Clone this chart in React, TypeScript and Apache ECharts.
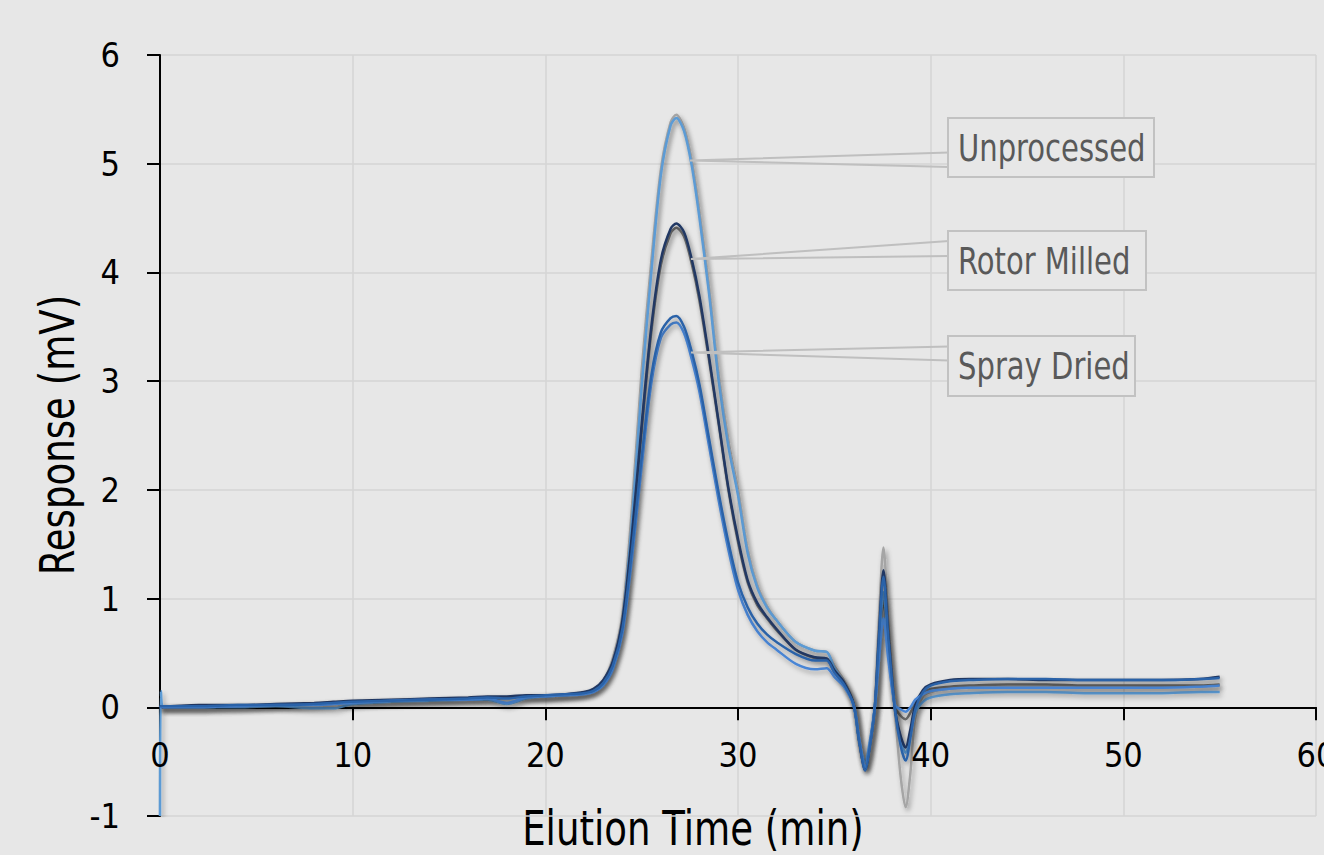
import React, { useEffect, useRef } from "react";
import * as echarts from "echarts";

// Elution time (min)
const TIME = [
  0, 0.05, 0.2,
  2, 4, 6, 8, 9, 10,
  12, 14, 16, 17, 18, 19, 20, 21,
  22, 22.5, 23, 23.5, 24, 24.5, 25, 25.5, 26, 26.5, 26.8,
  27.2, 27.6, 28, 28.5, 29, 29.5, 30, 30.5, 31, 31.5, 32,
  33, 34, 34.6, 35, 35.5, 36,
  36.3, 36.6, 36.85, 37.1, 37.3, 37.55, 37.8, 38.15, 38.45, 38.7, 38.95, 39.2, 39.6, 40,
  41, 42, 44, 46, 48, 50, 52, 54, 55,
];

// Response (mV)
const UNPROCESSED_1 = [
  0, 0, 0,
  0.0, 0.01, 0.02, 0.03, 0.04, 0.05,
  0.06, 0.07, 0.08, 0.09, 0.09, 0.1, 0.1, 0.11,
  0.13, 0.16, 0.24, 0.45, 0.85, 1.85, 3.1, 4.1, 4.95, 5.38, 5.45,
  5.33, 5.02, 4.55, 3.85, 3.05, 2.45, 2.0, 1.45, 1.12, 0.93, 0.8,
  0.6, 0.52, 0.51, 0.38, 0.25, 0.04,
  -0.35, -0.56, -0.35, 0.0, 0.75, 1.47, 0.8, -0.05, -0.65, -0.92, -0.6, -0.1, 0.1, 0.14,
  0.17, 0.18, 0.19, 0.19, 0.18, 0.18, 0.19, 0.19, 0.2,
];
const UNPROCESSED_2 = [
  -1.0, 0.15, 0.0,
  0.0, 0.0, 0.01, -0.01, -0.01, 0.03,
  0.05, 0.06, 0.07, 0.07, 0.03, 0.08, 0.1, 0.11,
  0.13, 0.15, 0.22, 0.41, 0.78, 1.72, 2.95, 4.0, 4.9, 5.35, 5.42,
  5.3, 4.98, 4.5, 3.8, 3.0, 2.4, 1.95, 1.42, 1.1, 0.92, 0.8,
  0.6, 0.52, 0.51, 0.36, 0.22, 0.02,
  -0.33, -0.5, -0.3, 0.0, 0.52, 1.06, 0.57, -0.02, -0.3, -0.42, -0.25, -0.05, 0.05, 0.09,
  0.12, 0.13, 0.14, 0.14, 0.13, 0.13, 0.13, 0.14, 0.14,
];
const ROTOR_1 = [
  0, 0.01, 0.01,
  0.02, 0.02, 0.03, 0.04, 0.05, 0.06,
  0.07, 0.08, 0.09, 0.1, 0.1, 0.11, 0.11, 0.12,
  0.14, 0.17, 0.25, 0.42, 0.8, 1.6, 2.6, 3.5, 4.12, 4.4, 4.45,
  4.37, 4.12, 3.78, 3.22, 2.62, 2.02, 1.55, 1.17, 0.96, 0.83, 0.72,
  0.53, 0.46, 0.45, 0.34, 0.23, 0.03,
  -0.32, -0.58, -0.35, 0.0, 0.62, 1.26, 0.68, -0.02, -0.27, -0.37, -0.2, 0.02, 0.16, 0.21,
  0.25, 0.26, 0.26, 0.25, 0.25, 0.25, 0.25, 0.26, 0.28,
];
const ROTOR_2 = [
  0, 0, 0,
  0.0, 0.01, 0.02, 0.03, 0.04, 0.05,
  0.06, 0.07, 0.08, 0.07, 0.09, 0.1, 0.1, 0.11,
  0.13, 0.16, 0.24, 0.41, 0.78, 1.55, 2.55, 3.45, 4.07, 4.36, 4.41,
  4.33, 4.08, 3.74, 3.19, 2.6, 2.0, 1.52, 1.15, 0.94, 0.82, 0.71,
  0.53, 0.45, 0.44, 0.33, 0.22, 0.03,
  -0.32, -0.56, -0.33, 0.0, 0.48, 0.98, 0.53, 0.0, -0.08, -0.11, -0.05, 0.05, 0.13, 0.17,
  0.19, 0.2, 0.21, 0.21, 0.2, 0.2, 0.2, 0.2, 0.21,
];
const SPRAY_1 = [
  0, 0.01, 0.01,
  0.01, 0.02, 0.02, 0.03, 0.04, 0.05,
  0.06, 0.07, 0.08, 0.09, 0.08, 0.1, 0.11, 0.12,
  0.13, 0.15, 0.22, 0.38, 0.72, 1.45, 2.3, 3.05, 3.45, 3.58, 3.6,
  3.5, 3.27, 2.97, 2.47, 1.97, 1.52, 1.15, 0.92, 0.77, 0.67, 0.6,
  0.49, 0.43, 0.43, 0.32, 0.21, 0.02,
  -0.32, -0.58, -0.35, 0.0, 0.58, 1.2, 0.64, -0.03, -0.36, -0.49, -0.28, -0.02, 0.14, 0.2,
  0.24, 0.25, 0.26, 0.26, 0.25, 0.25, 0.25, 0.26, 0.27,
];
const SPRAY_2 = [
  0, 0, 0,
  0.0, 0.01, 0.02, 0.02, 0.03, 0.04,
  0.06, 0.07, 0.07, 0.08, 0.04, 0.09, 0.1, 0.11,
  0.12, 0.14, 0.2, 0.35, 0.68, 1.38, 2.22, 2.98, 3.4, 3.52, 3.54,
  3.44, 3.2, 2.9, 2.4, 1.9, 1.45, 1.08, 0.85, 0.7, 0.6, 0.53,
  0.4, 0.35, 0.36, 0.28, 0.19, 0.02,
  -0.3, -0.55, -0.33, 0.0, 0.4, 0.82, 0.44, 0.02, -0.02, -0.04, 0.0, 0.07, 0.12, 0.15,
  0.17, 0.18, 0.18, 0.18, 0.18, 0.18, 0.18, 0.19, 0.2,
];

const SERIES_NAMES = ["Unprocessed A", "Rotor Milled B", "Unprocessed B", "Rotor Milled A", "Spray Dried B", "Spray Dried A"];
const SERIES_VALUES = [UNPROCESSED_1, ROTOR_2, UNPROCESSED_2, ROTOR_1, SPRAY_2, SPRAY_1];
const SERIES_COLORS = ["#a5a5a5", "#6b6b6b", "#5b9bd5", "#203864", "#4a86d6", "#2a62a8"];

const X_TICKS = [0, 10, 20, 30, 40, 50, 60];
const Y_TICKS = [-1, 0, 1, 2, 3, 4, 5, 6];

const LABELS = ["Unprocessed", "Rotor Milled", "Spray Dried"];
const X_TITLE = "Elution Time (min)";
const Y_TITLE = "Response (mV)";

const FONT = "'DejaVu Sans Condensed', 'DejaVu Sans', sans-serif";
const BG = "#e7e7e7";

export default function App() {
  const ref = useRef<HTMLDivElement>(null);
  useEffect(() => {
    if (!ref.current) return;
    const chart = echarts.init(ref.current, undefined, { renderer: "svg" });

    const series: any[] = SERIES_VALUES.map((vals, i) => ({
      name: SERIES_NAMES[i],
      type: "line",
      showSymbol: false,
      smooth: 0.3,
      data: TIME.map((t, j) => [t, vals[j]]),
      lineStyle: {
        color: SERIES_COLORS[i],
        width: 2.5,
        shadowColor: "rgba(0,0,0,0.35)",
        shadowBlur: 5,
        shadowOffsetX: 2,
        shadowOffsetY: 3,
      },
      itemStyle: { color: SERIES_COLORS[i] },
      z: 2 + i,
    }));

    // x tick labels placed next to the zero line (through the library's scales)
    series.push({
      name: "xTickLabels",
      type: "scatter",
      silent: true,
      symbolSize: 0,
      itemStyle: { color: "rgba(0,0,0,0)" },
      clip: false,
      data: X_TICKS.map((t) => [t, 0]),
      label: {
        show: true,
        position: "bottom",
        distance: 31,
        formatter: (p: any) => String(p.value[0]),
        color: "#000",
        opacity: 1,
        fontSize: 34,
        fontFamily: FONT,
      },
      z: 20,
    });

    const boxes = [
      { x: 948, y: 118, w: 206, h: 59, pts: [[949, 152.5], [690, 160.5], [949, 167]] },
      { x: 948, y: 231, w: 198, h: 59, pts: [[949, 241], [691, 259], [949, 256]] },
      { x: 948, y: 336, w: 187, h: 60, pts: [[949, 346.5], [691, 352.5], [949, 360.5]] },
    ];

    const graphics: any[] = [];
    boxes.forEach((b, i) => {
      graphics.push({
        type: "polyline",
        shape: { points: b.pts },
        style: { stroke: "#bfbfbf", lineWidth: 2, fill: null },
        z: 100,
      });
      graphics.push({
        type: "rect",
        shape: { x: b.x, y: b.y, width: b.w, height: b.h },
        style: { fill: BG, stroke: "#c2c2c2", lineWidth: 2 },
        z: 101,
      });
      graphics.push({
        type: "text",
        x: b.x + 10,
        y: b.y + b.h / 2,
        scaleX: 0.85,
        style: {
          text: LABELS[i],
          fill: "#595959",
          font: `38px ${FONT}`,
          textAlign: "left",
          textVerticalAlign: "middle",
        },
        z: 102,
      });
    });
    graphics.push({
      type: "text",
      x: 693,
      y: 828,
      scaleX: 0.86,
      style: {
        text: X_TITLE,
        fill: "#000",
        font: `48px ${FONT}`,
        textAlign: "center",
        textVerticalAlign: "middle",
      },
    });
    graphics.push({
      type: "text",
      x: 57,
      y: 435,
      rotation: Math.PI / 2,
      scaleX: 0.86,
      style: {
        text: Y_TITLE,
        fill: "#000",
        font: `48px ${FONT}`,
        textAlign: "center",
        textVerticalAlign: "middle",
      },
    });

    chart.setOption({
      animation: false,
      backgroundColor: BG,
      grid: { left: 160, right: 8, top: 55, bottom: 39, containLabel: false, outerBoundsMode: "none" },
      xAxis: {
        type: "value",
        min: X_TICKS[0],
        max: X_TICKS[X_TICKS.length - 1],
        interval: 10,
        axisLine: { show: true, onZero: true, lineStyle: { color: "#000", width: 2 } },
        axisTick: { show: true, length: 13, inside: false, lineStyle: { color: "#000", width: 2 } },
        axisLabel: { show: false },
        splitLine: { show: true, lineStyle: { color: "#d5d5d5", width: 1.5 } },
      },
      yAxis: {
        type: "value",
        min: Y_TICKS[0],
        max: Y_TICKS[Y_TICKS.length - 1],
        interval: 1,
        axisLine: { show: true, onZero: false, lineStyle: { color: "#000", width: 2 } },
        axisTick: { show: true, length: 13, lineStyle: { color: "#000", width: 2 } },
        axisLabel: { color: "#000", fontSize: 34, fontFamily: FONT, margin: 40 },
        splitLine: { show: true, lineStyle: { color: "#d5d5d5", width: 1.5 } },
      },
      series,
      graphic: graphics,
    });
    return () => chart.dispose();
  }, []);
  return (
    <div
      ref={ref}
      style={{ position: "fixed", left: 0, top: 0, width: 1324, height: 855 }}
    />
  );
}
